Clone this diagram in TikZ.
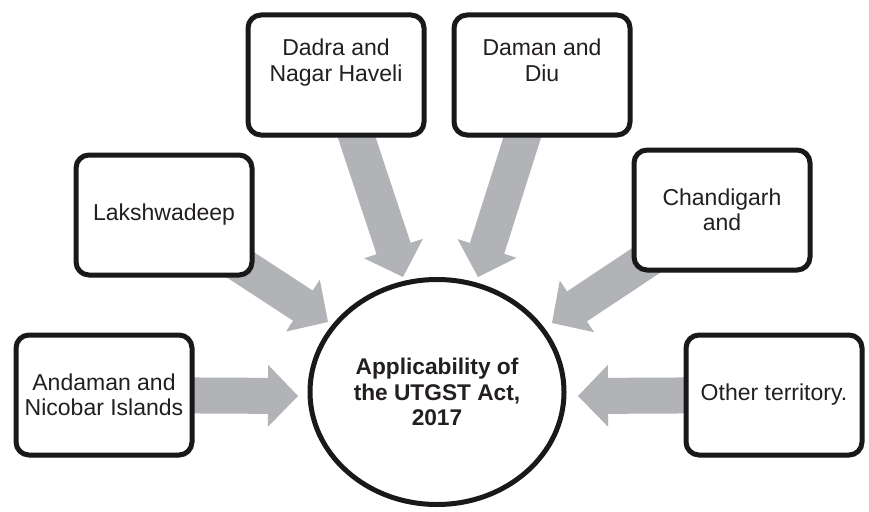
\documentclass[tikz,border=0pt]{standalone}
\usepackage{fontspec}
\setmainfont{Liberation Sans}
\usetikzlibrary{calc,shapes.geometric,shadows}
\definecolor{arrowgray}{RGB}{177,179,182}
\definecolor{txt}{RGB}{35,31,32}
\pgfdeclarelayer{background}
\pgfsetlayers{background,main}
\newcommand\blockarr[3]{%
  \coordinate (hb#3) at ($(#2)!30pt!(#1.center)$);
  \fill[arrowgray] ($(#1.center)!18pt!90:(#2)$) -- ($(hb#3)!18pt!90:(#2)$) -- ($(hb#3)!31pt!90:(#2)$) -- (#2)
    -- ($(hb#3)!31pt!-90:(#2)$) -- ($(hb#3)!18pt!-90:(#2)$) -- ($(#1.center)!18pt!-90:(#2)$) -- cycle;}
\begin{document}
\begin{tikzpicture}[x=1pt,y=-1pt,
  ubox/.style={draw=black!90, line width=5pt, rounded corners=13pt, fill=white,
    minimum width=176pt, minimum height=120pt, inner sep=0pt, align=center,
    text=txt, font=\fontsize{23}{25.5}\selectfont,
    drop shadow={opacity=0.25, shadow xshift=1.5pt, shadow yshift=-2.5pt}},
  hub/.style={ellipse, draw=black!90, line width=5pt, fill=white,
    minimum width=254pt, minimum height=225pt, inner sep=0pt, align=center,
    text=txt, font=\fontsize{22.7}{25.5}\selectfont\bfseries}]
\useasboundingbox (0,0) rectangle (869,511);
\node[ubox] (andaman) at (104,395) {Andaman and\\Nicobar Islands};
\node[ubox] (laksh) at (164,215) {Lakshwadeep};
\node[ubox] (dadra) at (336,75) {Dadra and\\Nagar Haveli\\[4pt]};
\node[ubox] (daman) at (542,75) {Daman and\\Diu\\[4pt]};
\node[ubox] (chandi) at (722,210) {Chandigarh\\and};
\node[ubox] (other) at (774,395) {Other territory.};
\node[hub] (hub) at (437,392) {Applicability of\\the UTGST Act,\\2017};
\coordinate (tA) at (298,396);
\coordinate (tL) at (328,322);
\coordinate (tDa) at (403,277);
\coordinate (tDm) at (478,277);
\coordinate (tC) at (552,323);
\coordinate (tO) at (578,396);
\begin{pgfonlayer}{background}
\blockarr{andaman}{tA}{a}
\blockarr{laksh}{tL}{b}
\blockarr{dadra}{tDa}{c}
\blockarr{daman}{tDm}{d}
\blockarr{chandi}{tC}{e}
\blockarr{other}{tO}{f}
\end{pgfonlayer}
\end{tikzpicture}
\end{document}
